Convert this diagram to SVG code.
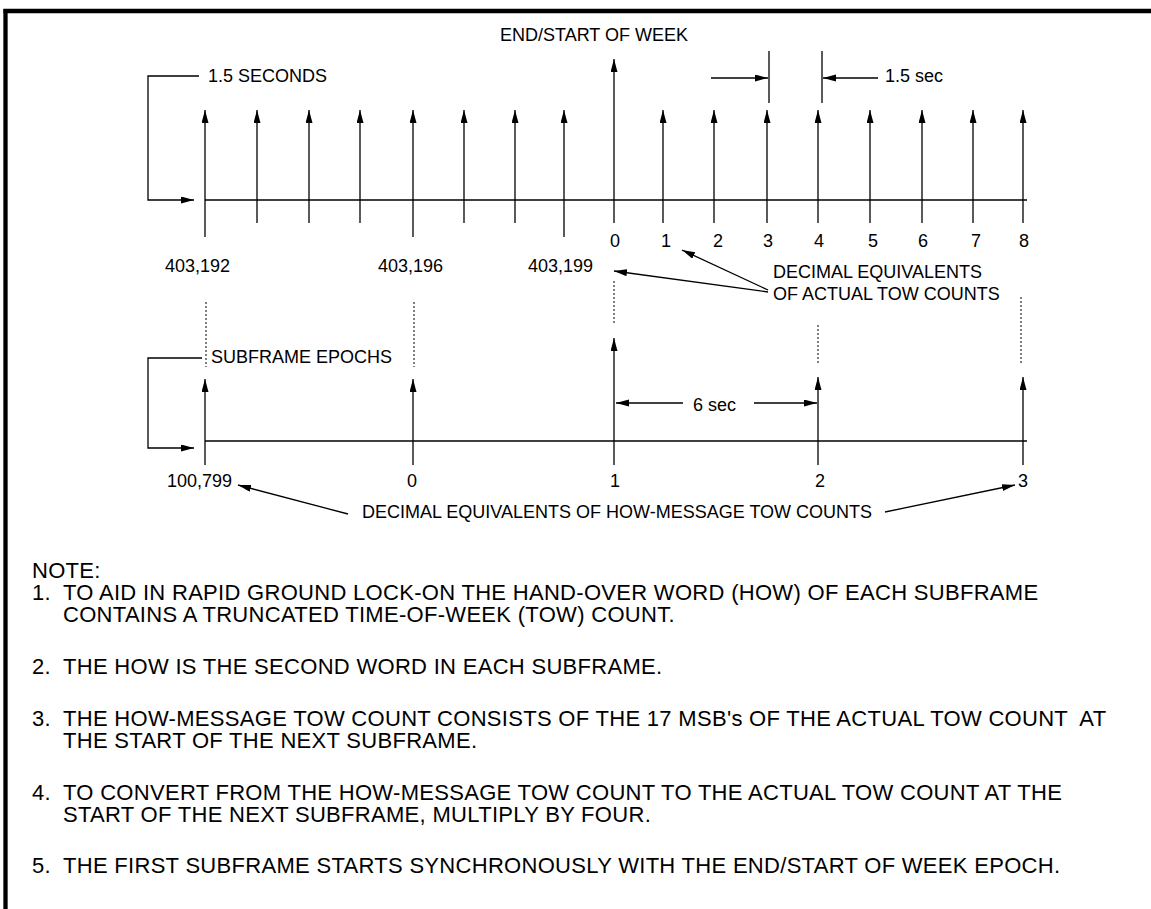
<svg xmlns="http://www.w3.org/2000/svg" width="1151" height="909" viewBox="0 0 1151 909">
<style>
  text { font-family: "Liberation Sans", Arial, sans-serif; fill: #000; }
  .lbl { font-size: 18px; }
  .mid { text-anchor: middle; }
  .note { font-size: 22px; letter-spacing: 0.3px; white-space: pre; }
  .ln { stroke: #000; stroke-width: 1.3; fill: none; }
  .arr { stroke: #000; stroke-width: 1.3; fill: none; marker-end: url(#ah); }
  .dot { stroke: #000; stroke-width: 1; stroke-dasharray: 2 2; fill: none; }
  .frame { stroke: #000; stroke-width: 4.3; fill: none; }
</style>
<defs>
  <marker id="ah" markerUnits="userSpaceOnUse" markerWidth="14" markerHeight="8" refX="13" refY="3.5" orient="auto">
    <path d="M0,0 L13,3.5 L0,7 z" fill="#000"/>
  </marker>
</defs>
<rect width="1151" height="909" fill="#fff"/>
<g id="frame">
  <line class="frame" x1="3.5" y1="11" x2="1151" y2="11"/>
  <line class="frame" x1="5.5" y1="9" x2="5.5" y2="909"/>
</g>

<g id="connectors">
  <!-- top timeline -->
  <line class="ln" x1="205" y1="200" x2="1027" y2="200"/>
  <line class="arr" x1="205" y1="237" x2="205" y2="110"/>
  <line class="arr" x1="257" y1="223" x2="257" y2="110"/>
  <line class="arr" x1="309" y1="223" x2="309" y2="110"/>
  <line class="arr" x1="360" y1="223" x2="360" y2="110"/>
  <line class="arr" x1="413" y1="237" x2="413" y2="110"/>
  <line class="arr" x1="464" y1="223" x2="464" y2="110"/>
  <line class="arr" x1="515" y1="223" x2="515" y2="110"/>
  <line class="arr" x1="564" y1="237" x2="564" y2="110"/>
  <line class="arr" x1="614" y1="223" x2="614" y2="59"/>
  <line class="arr" x1="663" y1="223" x2="663" y2="110"/>
  <line class="arr" x1="714" y1="223" x2="714" y2="110"/>
  <line class="arr" x1="767" y1="223" x2="767" y2="110"/>
  <line class="arr" x1="818" y1="223" x2="818" y2="110"/>
  <line class="arr" x1="870" y1="223" x2="870" y2="110"/>
  <line class="arr" x1="922" y1="223" x2="922" y2="110"/>
  <line class="arr" x1="973" y1="223" x2="973" y2="110"/>
  <line class="arr" x1="1023" y1="223" x2="1023" y2="110"/>
  <!-- 1.5 seconds bracket -->
  <path class="arr" d="M199,76 H148 V200 H194"/>
  <!-- 1.5 sec dimension -->
  <line class="ln" x1="769" y1="51" x2="769" y2="103"/>
  <line class="ln" x1="822" y1="51" x2="822" y2="103"/>
  <line class="arr" x1="711" y1="78" x2="768" y2="78"/>
  <line class="arr" x1="878" y1="78" x2="823" y2="78"/>
  <!-- decimal equivalents of actual tow counts -->
  <line class="arr" x1="768" y1="290" x2="682" y2="250"/>
  <line class="arr" x1="768" y1="292" x2="614" y2="271"/>
  <!-- dotted alignment lines -->
  <line class="dot" x1="206" y1="302" x2="206" y2="367"/>
  <line class="dot" x1="414" y1="302" x2="414" y2="367"/>
  <line class="dot" x1="614" y1="281" x2="614" y2="324"/>
  <line class="dot" x1="818" y1="325" x2="818" y2="364"/>
  <line class="dot" x1="1021" y1="297" x2="1021" y2="365"/>
  <!-- subframe epochs bracket -->
  <path class="arr" d="M202,358 H148 V448 H194"/>
  <!-- bottom timeline -->
  <line class="ln" x1="205" y1="441" x2="1027" y2="441"/>
  <line class="arr" x1="205" y1="465" x2="205" y2="379"/>
  <line class="arr" x1="413" y1="465" x2="413" y2="379"/>
  <line class="arr" x1="614" y1="465" x2="614" y2="338"/>
  <line class="arr" x1="818" y1="465" x2="818" y2="377"/>
  <line class="arr" x1="1023" y1="465" x2="1023" y2="377"/>
  <!-- 6 sec dimension -->
  <line class="arr" x1="683" y1="403" x2="616" y2="403"/>
  <line class="arr" x1="754" y1="403" x2="817" y2="403"/>
  <!-- how-message arrows -->
  <line class="arr" x1="348" y1="514" x2="238" y2="485"/>
  <line class="arr" x1="885" y1="512" x2="1015" y2="485"/>
</g>

<g id="top-labels">
  <text class="lbl" x="208" y="82">1.5 SECONDS</text>
  <text class="lbl" x="500" y="41">END/START OF WEEK</text>
  <text class="lbl" x="885" y="82">1.5 sec</text>
</g>
<g id="tow-labels">
  <text class="lbl" x="165" y="272">403,192</text>
  <text class="lbl" x="378" y="272">403,196</text>
  <text class="lbl" x="528" y="272">403,199</text>
  <text class="lbl mid" x="615" y="247">0</text>
  <text class="lbl mid" x="666" y="247">1</text>
  <text class="lbl mid" x="718" y="247">2</text>
  <text class="lbl mid" x="768" y="247">3</text>
  <text class="lbl mid" x="819" y="247">4</text>
  <text class="lbl mid" x="873" y="247">5</text>
  <text class="lbl mid" x="923" y="247">6</text>
  <text class="lbl mid" x="976" y="247">7</text>
  <text class="lbl mid" x="1024" y="247">8</text>
</g>
<g id="actual-tow-note">
  <text class="lbl" x="773" y="278">DECIMAL EQUIVALENTS</text>
  <text class="lbl" x="773" y="300">OF ACTUAL TOW COUNTS</text>
</g>
<g id="subframe-labels">
  <text class="lbl" x="211" y="363">SUBFRAME EPOCHS</text>
  <text class="lbl" x="693" y="411">6 sec</text>
  <text class="lbl" x="167" y="487">100,799</text>
  <text class="lbl mid" x="412" y="487">0</text>
  <text class="lbl mid" x="615" y="487">1</text>
  <text class="lbl mid" x="820" y="487">2</text>
  <text class="lbl mid" x="1023" y="487">3</text>
  <text class="lbl" x="362" y="518">DECIMAL EQUIVALENTS OF HOW-MESSAGE TOW COUNTS</text>
</g>
<g id="notes">
  <text class="note" x="32" y="578">NOTE:</text>
  <text class="note" y="600"><tspan x="32">1.</tspan><tspan x="63">TO AID IN RAPID GROUND LOCK-ON THE HAND-OVER WORD (HOW) OF EACH SUBFRAME</tspan></text>
  <text class="note" x="63" y="622">CONTAINS A TRUNCATED TIME-OF-WEEK (TOW) COUNT.</text>
  <text class="note" y="674"><tspan x="32">2.</tspan><tspan x="63">THE HOW IS THE SECOND WORD IN EACH SUBFRAME.</tspan></text>
  <text class="note" y="726"><tspan x="32">3.</tspan><tspan x="63">THE HOW-MESSAGE TOW COUNT CONSISTS OF THE 17 MSB's OF THE ACTUAL TOW COUNT  AT</tspan></text>
  <text class="note" x="63" y="748">THE START OF THE NEXT SUBFRAME.</text>
  <text class="note" y="800"><tspan x="32">4.</tspan><tspan x="63">TO CONVERT FROM THE HOW-MESSAGE TOW COUNT TO THE ACTUAL TOW COUNT AT THE</tspan></text>
  <text class="note" x="63" y="822">START OF THE NEXT SUBFRAME, MULTIPLY BY FOUR.</text>
  <text class="note" y="873"><tspan x="32">5.</tspan><tspan x="63">THE FIRST SUBFRAME STARTS SYNCHRONOUSLY WITH THE END/START OF WEEK EPOCH.</tspan></text>
</g>
</svg>
